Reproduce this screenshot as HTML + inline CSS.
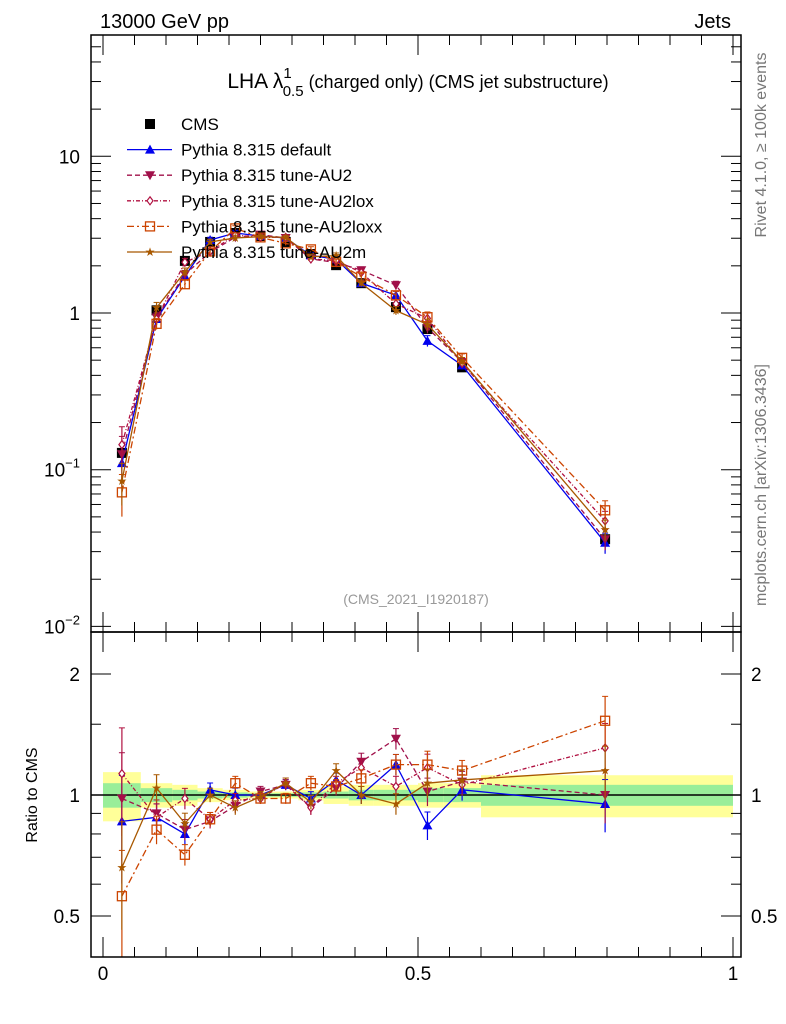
<!DOCTYPE html>
<html><head><meta charset="utf-8"><style>
html,body{margin:0;padding:0;background:#fff;}
svg{display:block;font-family:"Liberation Sans",sans-serif;}
</style></head><body>
<svg id="chart" width="786" height="1024" xmlns="http://www.w3.org/2000/svg">
<g id="bands"></g>
<g id="marks"></g>
<g id="axes"></g>
<text x="100" y="28" font-size="20">13000 GeV pp</text>
<text x="731" y="28" font-size="20" text-anchor="end">Jets</text>
<text x="418" y="88" font-size="21" text-anchor="middle">LHA λ<tspan font-size="15" dy="-10">1</tspan><tspan font-size="15" dx="-9" dy="18">0.5</tspan><tspan font-size="18" dy="-8"> (charged only) (CMS jet substructure)</tspan></text>
<text x="416" y="604" font-size="14" fill="#999" text-anchor="middle">(CMS_2021_I1920187)</text>
<text transform="translate(766,145) rotate(-90)" font-size="16" fill="#777" text-anchor="middle">Rivet 4.1.0, ≥ 100k events</text>
<text transform="translate(766,485) rotate(-90)" font-size="16" fill="#777" text-anchor="middle">mcplots.cern.ch [arXiv:1306.3436]</text>
<text transform="translate(37,795) rotate(-90)" font-size="16" text-anchor="middle">Ratio to CMS</text>
<g id="legend"></g>
</svg>
<script>
const xs = [0.03,0.085,0.13,0.17,0.21,0.25,0.29,0.33,0.37,0.41,0.465,0.515,0.57,0.797];
const binEdges = [0,0.06,0.11,0.15,0.19,0.23,0.27,0.31,0.35,0.39,0.43,0.5,0.54,0.6,1.0];
const cms = [0.128,1.04,2.15,2.84,3.24,3.1,2.84,2.38,2.02,1.55,1.09,0.79,0.45,0.036];
const cmsErr = [0.08,0.05,0.04,0.03,0.03,0.02,0.02,0.03,0.03,0.04,0.05,0.05,0.05,0.08];
const bandTotal = [0.14,0.07,0.06,0.04,0.03,0.02,0.02,0.03,0.05,0.06,0.06,0.07,0.07,0.12];
const bandStat = [0.07,0.04,0.03,0.02,0.015,0.01,0.01,0.015,0.02,0.03,0.03,0.04,0.04,0.06];
const rDefault = [0.86,0.88,0.80,1.03,1.0,1.0,1.06,0.98,1.09,1.0,1.19,0.84,1.03,0.95];
const rAU2 = [0.98,0.90,0.82,0.86,0.94,1.02,1.06,0.93,1.04,1.21,1.38,1.02,1.08,1.0];
const rAU2lox = [1.13,0.88,0.98,0.87,0.97,0.98,1.07,0.93,1.07,1.17,1.05,1.17,1.06,1.31];
const rAU2loxx = [0.56,0.82,0.71,0.87,1.07,0.98,0.98,1.07,1.05,1.10,1.19,1.19,1.15,1.53];
const rAU2m = [0.66,1.04,0.85,1.0,0.93,0.99,1.07,0.96,1.15,1.0,0.95,1.07,1.09,1.15];
const mcErr = [0.3,0.08,0.06,0.04,0.04,0.03,0.03,0.04,0.04,0.05,0.06,0.08,0.06,0.15];
const mainTicks = [{v:10,l:"10"},{v:1,l:"1"},{v:0.1,l:"10",e:"−1"},{v:0.01,l:"10",e:"−2"}];
const ratioTicks = [{v:2,l:"2"},{v:1,l:"1"},{v:0.5,l:"0.5"}];
const xTicks = [{v:0,l:"0"},{v:0.5,l:"0.5"},{v:1,l:"1"}];

const NS="http://www.w3.org/2000/svg";
const L=91,R=741,T=35,MB=632,RB=957;
const X=v=>103+630*v;
const Y=v=>313-156.7*Math.log10(v);
const YR=v=>795-121*Math.log2(v);
function mk(p,tag,a){const e=document.createElementNS(NS,tag);for(const k in a)e.setAttribute(k,a[k]);p.appendChild(e);return e;}
const bands=document.getElementById('bands'),marks=document.getElementById('marks'),axes=document.getElementById('axes'),leg=document.getElementById('legend');

for(let i=0;i<xs.length;i++){
  const x0=X(binEdges[i]),x1=X(binEdges[i+1]);
  const y=mk(bands,'rect',{x:x0,y:YR(1+bandTotal[i]),width:x1-x0,height:YR(1-bandTotal[i])-YR(1+bandTotal[i]),fill:'#ffff99'});
  
  
  const g=mk(bands,'rect',{x:x0,y:YR(1+bandStat[i]),width:x1-x0,height:YR(1-bandStat[i])-YR(1+bandStat[i]),fill:'#99ee99'});
  
  
}
const one=mk(bands,'line',{x1:L,x2:R,y1:YR(1),y2:YR(1),stroke:'#000','stroke-width':1.5});



function marker(p,type,x,y,c){
  const s=5;
  if(type==='sq') return mk(p,'rect',{x:x-5,y:y-5,width:10,height:10,fill:'#000'});
  if(type==='tri') return mk(p,'polygon',{points:`${x},${y-s} ${x-s},${y+4} ${x+s},${y+4}`,fill:c});
  if(type==='dtri') return mk(p,'polygon',{points:`${x},${y+s} ${x-s},${y-4} ${x+s},${y-4}`,fill:c});
  if(type==='dia') return mk(p,'polygon',{points:`${x},${y-4} ${x-3},${y} ${x},${y+4} ${x+3},${y}`,fill:'#fff',stroke:c,'stroke-width':1.2});
  if(type==='osq') return mk(p,'rect',{x:x-4.5,y:y-4.5,width:9,height:9,fill:'none',stroke:c,'stroke-width':1.3});
  if(type==='star') return mk(p,'text',{x:x,y:y+4,'font-size':12,fill:c,'text-anchor':'middle'});
}
const series=[
 {name:'Pythia 8.315 default',r:rDefault,c:'#0000ee',dash:'',m:'tri',id:'default'},
 {name:'Pythia 8.315 tune-AU2',r:rAU2,c:'#a0104a',dash:'5,3',m:'dtri',id:'au2'},
 {name:'Pythia 8.315 tune-AU2lox',r:rAU2lox,c:'#b01040',dash:'4,2,1,2',m:'dia',id:'au2lox'},
 {name:'Pythia 8.315 tune-AU2loxx',r:rAU2loxx,c:'#cc4400',dash:'7,3,2,3',m:'osq',id:'au2loxx'},
 {name:'Pythia 8.315 tune-AU2m',r:rAU2m,c:'#a85800',dash:'',m:'star',id:'au2m'}
];
function drawSeries(s){
  const g=mk(marks,'g',{});
  
  
  const mainPts=xs.map((x,i)=>[X(x),Y(cms[i]*s.r[i])]);
  const ratPts=xs.map((x,i)=>[X(x),YR(s.r[i])]);
  [mainPts,ratPts].forEach((pts,k)=>{
    mk(g,'polyline',{points:pts.map(p=>p.join(',')).join(' '),fill:'none',stroke:s.c,'stroke-width':1.3,'stroke-dasharray':s.dash});
    pts.forEach((p,i)=>{
      const v=k===0?cms[i]*s.r[i]:s.r[i];
      const f=k===0?Y:YR;
      const y1=f(v*(1+mcErr[i])),y2=f(Math.max(v*(1-mcErr[i]),1e-4));
      mk(g,'line',{x1:p[0],x2:p[0],y1:y1,y2:Math.min(y2,k===0?MB:RB),stroke:s.c,'stroke-width':1.2});
      mk(g,'line',{x1:p[0]-3,x2:p[0]+3,y1:y1,y2:y1,stroke:s.c,'stroke-width':1});
      const m=marker(g,s.m,p[0],p[1],s.c);
      if(s.m==='star') m.textContent='★';
      
      
    });
  });
}
const cg=mk(marks,'g',{});


xs.forEach((x,i)=>{
  mk(cg,'line',{x1:X(x),x2:X(x),y1:Y(cms[i]*(1+cmsErr[i])),y2:Y(cms[i]*(1-cmsErr[i])),stroke:'#000','stroke-width':1.2});
  const m=marker(cg,'sq',X(x),Y(cms[i]));
  
  
});
series.forEach(drawSeries);

mk(axes,'rect',{x:L,y:T,width:R-L,height:MB-T,fill:'none',stroke:'#000','stroke-width':1.5});
mk(axes,'rect',{x:L,y:MB,width:R-L,height:RB-MB,fill:'none',stroke:'#000','stroke-width':1.5});
for(let d=-2;d<=1;d++){for(let k=1;k<10;k++){
  const y=Y(k*Math.pow(10,d)); if(y<T||y>MB)continue;
  const len=k===1?20:10;
  mk(axes,'line',{x1:L,x2:L+len,y1:y,y2:y,stroke:'#000'});
  mk(axes,'line',{x1:R,x2:R-len,y1:y,y2:y,stroke:'#000'});
}}
mainTicks.forEach(t=>{
  const tx=mk(axes,'text',{x:80,y:Y(t.v)+7,'font-size':19,'text-anchor':'end'});
  tx.textContent=t.l;
  if(t.e){const ts=mk(tx,'tspan',{'font-size':13,dy:-9});ts.textContent=t.e;}
  
  
});
[0.5,0.6,0.7,0.8,0.9,1,1.5,2].forEach(v=>{
  const len=(v===0.5||v===1||v===2)?20:10;
  [[L,L+len],[R,R-len]].forEach(a=>mk(axes,'line',{x1:a[0],x2:a[1],y1:YR(v),y2:YR(v),stroke:'#000'}));
});
ratioTicks.forEach(t=>{
  const a=mk(axes,'text',{x:80,y:YR(t.v)+7,'font-size':19,'text-anchor':'end'});a.textContent=t.l;
  
  
  const b=mk(axes,'text',{x:751,y:YR(t.v)+7,'font-size':19});b.textContent=t.l;
  
  
});
for(let i=0;i<=20;i++){
  const x=X(i*0.05),len=i%10===0?20:10;
  mk(axes,'line',{x1:x,x2:x,y1:RB,y2:RB-len,stroke:'#000'});
  mk(axes,'line',{x1:x,x2:x,y1:MB,y2:MB-len,stroke:'#000'});
  mk(axes,'line',{x1:x,x2:x,y1:MB,y2:MB+len,stroke:'#000'});
  mk(axes,'line',{x1:x,x2:x,y1:T,y2:T+len,stroke:'#000'});
}
xTicks.forEach(t=>{
  const a=mk(axes,'text',{x:X(t.v),y:980,'font-size':19,'text-anchor':'middle'});a.textContent=t.l;
  
  
});

const rows=[{name:'CMS',m:'sq',c:'#000'}].concat(series);
rows.forEach((s,i)=>{
  const y=124+25.6*i;
  const g=mk(leg,'g',{});
  
  
  if(i>0) mk(g,'line',{x1:127,x2:172,y1:y,y2:y,stroke:s.c,'stroke-width':1.3,'stroke-dasharray':s.dash});
  const m=marker(g,s.m,150,y,s.c); if(s.m==='star') m.textContent='★';
  const t=mk(g,'text',{x:181,y:y+6,'font-size':17});t.textContent=s.name;
});
</script>
</body></html>
